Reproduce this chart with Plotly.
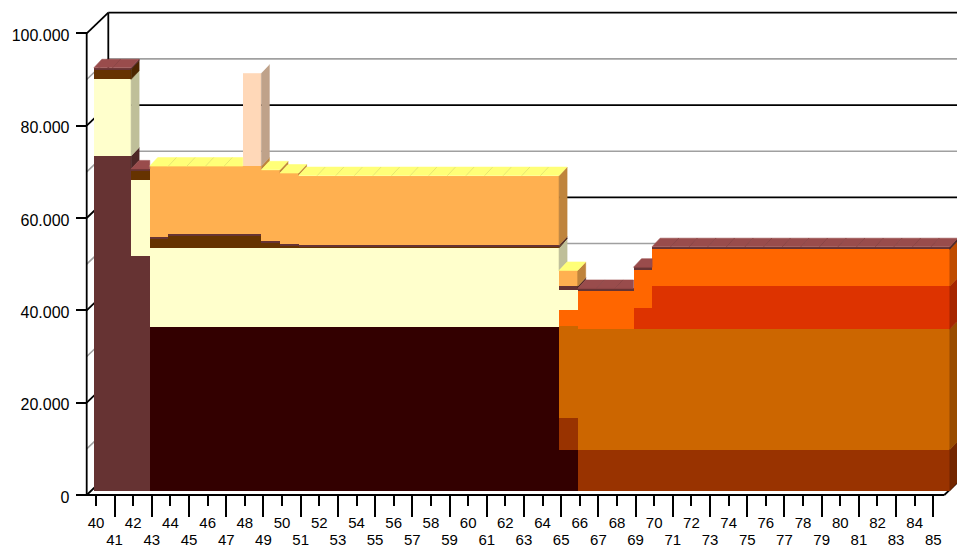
import plotly.graph_objects as go

# ---------------- data ----------------
categories = list(range(40, 86))

# stacked series, bottom to top (one value per category 40..85)
s_darkred = [0, 0, 0, 35500, 35500, 35500, 35500, 35500, 35500, 35500, 35500, 35500, 35500, 35500,
             35500, 35500, 35500, 35500, 35500, 35500, 35500, 35500, 35500, 35500, 35500, 8800,
             0, 0, 0, 0, 0, 0, 0, 0, 0, 0, 0, 0, 0, 0, 0, 0, 0, 0, 0, 0]
s_maroon = [72500, 72500, 50800, 0, 0, 0, 0, 0, 0, 0, 0, 0, 0, 0, 0, 0, 0, 0, 0, 0, 0, 0, 0, 0, 0, 0,
            0, 0, 0, 0, 0, 0, 0, 0, 0, 0, 0, 0, 0, 0, 0, 0, 0, 0, 0, 0]
s_rust = [0, 0, 0, 0, 0, 0, 0, 0, 0, 0, 0, 0, 0, 0, 0, 0, 0, 0, 0, 0, 0, 0, 0, 0, 0, 6900,
          8900, 8900, 8900, 8900, 8900, 8900, 8900, 8900, 8900, 8900, 8900, 8900, 8900, 8900,
          8900, 8900, 8900, 8900, 8900, 8900]
s_ochre = [0, 0, 0, 0, 0, 0, 0, 0, 0, 0, 0, 0, 0, 0, 0, 0, 0, 0, 0, 0, 0, 0, 0, 0, 0, 19900,
           26100, 26100, 26100, 26100, 26100, 26100, 26100, 26100, 26100, 26100, 26100, 26100, 26100,
           26100, 26100, 26100, 26100, 26100, 26100, 26100]
s_red = [0, 0, 0, 0, 0, 0, 0, 0, 0, 0, 0, 0, 0, 0, 0, 0, 0, 0, 0, 0, 0, 0, 0, 0, 0, 0,
         0, 0, 0, 4600, 9300, 9300, 9300, 9300, 9300, 9300, 9300, 9300, 9300, 9300, 9300, 9300,
         9300, 9300, 9300, 9300]
s_orange = [0, 0, 0, 0, 0, 0, 0, 0, 0, 0, 0, 0, 0, 0, 0, 0, 0, 0, 0, 0, 0, 0, 0, 0, 0, 3500,
            8300, 8300, 8300, 8400, 8000, 8000, 8000, 8000, 8000, 8000, 8000, 8000, 8000, 8000,
            8000, 8000, 8000, 8000, 8000, 8000]
s_cream = [16600, 16600, 16600, 17100, 17100, 17100, 17100, 17100, 17100, 17100, 17100, 17100, 17100,
           17100, 17100, 17100, 17100, 17100, 17100, 17100, 17100, 17100, 17100, 17100, 17100, 4400,
           0, 0, 0, 0, 0, 0, 0, 0, 0, 0, 0, 0, 0, 0, 0, 0, 0, 0, 0, 0]
s_brown = [2200, 2200, 2000, 2100, 2700, 2700, 2700, 2700, 2700, 1200, 400, 200, 200, 200, 200, 200,
           200, 200, 200, 200, 200, 200, 200, 200, 200, 0,
           0, 0, 0, 0, 0, 0, 0, 0, 0, 0, 0, 0, 0, 0, 0, 0, 0, 0, 0, 0]
s_thin = [300, 300, 300, 350, 350, 350, 350, 350, 350, 350, 350, 350, 350, 350, 350, 350, 350, 350,
          350, 350, 350, 350, 350, 350, 350, 800, 500, 500, 500, 400, 550, 550, 550, 550, 550, 550,
          550, 550, 550, 550, 550, 550, 550, 550, 550, 550]
s_apricot = [0, 0, 0, 15250, 14650, 14650, 14650, 14650, 14650, 15350, 15450, 15100, 15100, 15100,
             15100, 15100, 15100, 15100, 15100, 15100, 15100, 15100, 15100, 15100, 15100, 3400,
             0, 0, 0, 0, 0, 0, 0, 0, 0, 0, 0, 0, 0, 0, 0, 0, 0, 0, 0, 0]
s_peach = [0, 0, 0, 0, 0, 0, 0, 0, 20200, 0, 0, 0, 0, 0, 0, 0, 0, 0, 0, 0, 0, 0, 0, 0, 0, 0,
           0, 0, 0, 0, 0, 0, 0, 0, 0, 0, 0, 0, 0, 0, 0, 0, 0, 0, 0, 0]

series = [
    (s_darkred, "#330000"), (s_maroon, "#663333"), (s_rust, "#993300"), (s_ochre, "#CC6600"),
    (s_red, "#DD3300"), (s_orange, "#FF6600"), (s_cream, "#FFFFCC"), (s_brown, "#663300"),
    (s_thin, "#663333"), (s_apricot, "#FFB050"), (s_peach, "#FFD8B8"),
]

y_tickvals = [0, 20000, 40000, 60000, 80000, 100000]
y_ticktext = ["0", "20.000", "40.000", "60.000", "80.000", "100.000"]

# ---------------- geometry of the 3D view ----------------
W, H = 957, 548
PX_CAT = 18.607           # px per category
X40 = 96.0                # px of category 40 on the front plane
K = 461.7 / 100000        # px per value unit
Y0 = 495.0                # px of value 0 on front plane
BAR_DX, BAR_DY = 7.2, 4.3     # bar plane offset from front plane (px)
DEP_DX, DEP_DY = 8.0, 8.5     # bar depth (px)
BACK_DX, BACK_DY = 21.6, 20.6  # back wall offset (px)


def crange(dx):
    return [40 + (0 - X40 - dx) / PX_CAT, 40 + (W - X40 - dx) / PX_CAT]


def vrange(dy):
    y0 = Y0 - dy
    return [(y0 - H) / K, y0 / K]


def shade(hexcol, f):
    h = hexcol.lstrip("#")
    r, g, b = (int(h[i:i + 2], 16) for i in (0, 2, 4))
    r, g, b = (min(255, int(round(v * f))) for v in (r, g, b))
    return "#%02X%02X%02X" % (r, g, b)


fig = go.Figure()

# ---------------- frame (front plane coordinates, base subplot) ----------------
CL, CR = 39.5, 85.59
DXB, DYB = BACK_DX / PX_CAT, BACK_DY / K


def seglist(segs):
    xs, ys = [], []
    for (x0, y0), (x1, y1) in segs:
        xs += [x0, x1, None]
        ys += [y0, y1, None]
    return xs, ys


gray_segs, black_segs = [], []
for v in range(10000, 100000, 10000):
    target = black_segs if v % 20000 == 0 else gray_segs
    target.append(((CL + DXB, v + DYB), (CR + DXB + 2, v + DYB)))
    target.append(((CL, v), (CL + DXB, v + DYB)))
black_segs += [
    ((CL, 0), (CL, 100000)),
    ((CL, 100000), (CL + DXB, 100000 + DYB)),
    ((CL + DXB, 100000 + DYB), (CR + DXB + 2, 100000 + DYB)),
    ((CL + DXB, DYB), (CL + DXB, 100000 + DYB)),
    ((CL, 0), (CR, 0)),
    ((CR, 0), (CR + DXB, DYB)),
    ((CL, 0), (CL + DXB, DYB)),
    ((CL + DXB, DYB), (CR + DXB + 2, DYB)),
]
gx, gy = seglist(gray_segs)
fig.add_trace(go.Scatter(x=gx, y=gy, mode="lines", line=dict(color="#A0A0A0", width=1.6),
                         hoverinfo="skip", showlegend=False))
bx, by = seglist(black_segs)
fig.add_trace(go.Scatter(x=bx, y=by, mode="lines", line=dict(color="#000000", width=1.8),
                         hoverinfo="skip", showlegend=False))

# ---------------- bars (front faces) ----------------
for vals, color in series:
    fig.add_trace(go.Bar(x=categories, y=vals, width=1, marker=dict(color=color, line=dict(width=0)),
                         xaxis="x2", yaxis="y2", hoverinfo="skip", showlegend=False))

# ---------------- side and top faces ----------------
ddx, ddy = DEP_DX / PX_CAT, DEP_DY / K
n = len(categories)
totals = [sum(vals[k] for vals, _ in series) for k in range(n)]


def poly(xs, ys, color):
    fig.add_trace(go.Scatter(x=xs + [xs[0]], y=ys + [ys[0]], mode="lines", fill="toself",
                             fillcolor=color, line=dict(color=color, width=0.6),
                             xaxis="x2", yaxis="y2", hoverinfo="skip", showlegend=False))


def edge(xs, ys, color):
    fig.add_trace(go.Scatter(x=xs, y=ys, mode="lines", line=dict(color=color, width=0.8),
                             xaxis="x2", yaxis="y2", hoverinfo="skip", showlegend=False))


for k in range(n):
    c = categories[k]
    xl, xr = c - 0.5, c + 0.5
    hn = totals[k + 1] if k + 1 < n else 0
    hp = totals[k - 1] if k > 0 else 0
    base = 0
    topcolor = None
    for vals, color in series:
        v = vals[k]
        if v <= 0:
            continue
        a, b = base, base + v
        base = b
        topcolor = color
        lo = max(a, hn)
        if b > lo:
            poly([xr, xr + ddx, xr + ddx, xr], [lo, lo + ddy, b + ddy, b], shade(color, 0.75))
    h = totals[k]
    tc = shade(topcolor, 1.5)
    if hn > h:
        poly([xl, xr, xr, xl + ddx], [h, h, h + ddy, h + ddy], tc)
    else:
        poly([xl, xr, xr + ddx, xl + ddx], [h, h, h + ddy, h + ddy], tc)
    if k > 0 and abs(hp - h) < 1:
        edge([xl, xl + ddx], [h, h + ddy], shade(tc, 0.88))

# dummy trace to host the long odd ticks axis
fig.add_trace(go.Scatter(x=[40], y=[0], xaxis="x3", yaxis="y", mode="markers",
                         marker=dict(opacity=0), hoverinfo="skip", showlegend=False))

font = dict(family="Liberation Sans, Arial, sans-serif", size=15, color="#000000")
yfont = dict(family="Liberation Sans, Arial, sans-serif", size=16, color="#000000")
even = [c for c in categories if c % 2 == 0]
odd = [c for c in categories if c % 2 == 1]
xpos = (H - Y0) / H
cr0 = crange(0)

fig.update_layout(
    template="none",
    width=W, height=H, margin=dict(l=0, r=0, t=0, b=0, pad=0, autoexpand=False),
    paper_bgcolor="white", plot_bgcolor="white",
    barmode="stack", bargap=0, showlegend=False,
    xaxis=dict(domain=[0, 1], range=cr0, anchor="free", position=xpos, automargin=False,
               tickmode="array", tickvals=even, ticktext=[str(c) for c in even],
               ticks="outside", ticklen=10, tickwidth=2, tickcolor="#000",
               showline=False, showgrid=False, zeroline=False, tickfont=font,
               ticklabelstandoff=4),
    xaxis3=dict(overlaying="x", range=cr0, anchor="free", position=xpos, automargin=False,
                tickmode="array", tickvals=odd, ticktext=[str(c) for c in odd],
                ticks="outside", ticklen=21, tickwidth=2, tickcolor="#000",
                showline=False, showgrid=False, zeroline=False, tickfont=font,
                ticklabelstandoff=10),
    yaxis=dict(domain=[0, 1], range=vrange(0), anchor="free", automargin=False,
               position=(CL - cr0[0]) / (cr0[1] - cr0[0]),
               tickmode="array", tickvals=y_tickvals, ticktext=y_ticktext,
               ticks="outside", ticklen=11, tickwidth=2, tickcolor="#000",
               showline=False, showgrid=False, zeroline=False, tickfont=yfont,
               ticklabelstandoff=3, ticklabelshift=2),
    xaxis2=dict(overlaying="x", range=crange(BAR_DX), visible=False, automargin=False),
    yaxis2=dict(overlaying="y", range=vrange(BAR_DY), visible=False, automargin=False),
)

fig.write_html("out.html", config={"responsive": False, "displayModeBar": False},
               post_script="document.body.style.margin='0';document.body.style.overflow='hidden';")
